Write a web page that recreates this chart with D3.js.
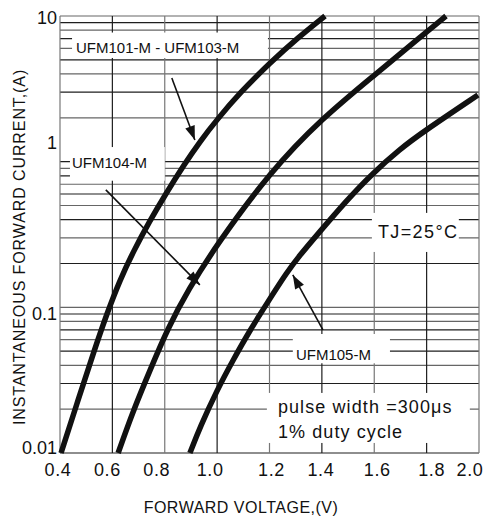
<!DOCTYPE html>
<html>
<head>
<meta charset="utf-8">
<script src="https://cdn.jsdelivr.net/npm/d3@7"></script>
<style>
  body { margin: 0; background: #fff; }
  svg { display: block; font-family: "Liberation Sans", Arial, sans-serif; }
</style>
</head>
<body>
<svg id="chart" width="487" height="519"></svg>
<script>
// forward voltage (V) / current (A)
const v101 = [0.404, 0.469, 0.530, 0.580, 0.629, 0.679, 0.744, 0.801, 0.874, 0.935, 1.000, 1.087, 1.202, 1.309, 1.412];
const i101 = [0.01, 0.0231, 0.0501, 0.0915, 0.154, 0.240, 0.395, 0.590, 0.955, 1.38, 1.95, 2.97, 4.77, 7.11, 10];

const v104 = [0.622, 0.679, 0.744, 0.812, 0.889, 1.000, 1.202, 1.401, 1.611, 1.775, 1.874];
const i104 = [0.01, 0.0194, 0.0371, 0.0721, 0.1315, 0.272, 0.849, 1.99, 4.06, 7.17, 10];

const v105 = [0.896, 0.935, 1.000, 1.061, 1.126, 1.191, 1.267, 1.317, 1.378, 1.496, 1.591, 1.698, 1.786, 1.996];
const i105 = [0.01, 0.0151, 0.0271, 0.0435, 0.0699, 0.107, 0.175, 0.229, 0.309, 0.546, 0.823, 1.22, 1.60, 2.87];

const xTickValues = [0.4, 0.6, 0.8, 1.0, 1.2, 1.4, 1.6, 1.8, 2.0];
const xTickLabels = ['0.4', '0.6', '0.8', '1.0', '1.2', '1.4', '1.6', '1.8', '2.0'];
const yTickValues = [10, 1, 0.1, 0.01];
const yTickLabels = ['10', '1', '0.1', '0.01'];

const margin = {left: 60, right: 8, top: 16, bottom: 66};
const width = 487, height = 519;

const svg = d3.select('#chart');

const x = d3.scaleLinear()
    .domain([0.4, 2.0])
    .range([margin.left, width - margin.right]);

const y = d3.scaleLog()
    .domain([0.01, 10])
    .range([height - margin.bottom, margin.top]);

// grid
const grid = svg.append('g');

grid.selectAll('.hgrid')
    .data(y.ticks())
    .join('line')
        .classed('hgrid', true)
        .attr('x1', x.range()[0])
        .attr('x2', x.range()[1])
        .attr('y1', d => y(d))
        .attr('y2', d => y(d))
        .style('stroke', (d, i) => i % 2 ? '#666' : '#1e1e1e')
        .style('stroke-width', 1.2);

grid.selectAll('.vgrid')
    .data(xTickValues)
    .join('line')
        .classed('vgrid', true)
        .attr('x1', d => x(d))
        .attr('x2', d => x(d))
        .attr('y1', y.range()[0])
        .attr('y2', y.range()[1])
        .style('stroke', (d, i) => i % 2 ? '#1e1e1e' : '#777')
        .style('stroke-width', 1.2);

// white boxes behind the notes
const boxes = [
    {v0: 0.446, v1: 1.194, i0: 5.15, i1: 7.7},
    {v0: 0.438, v1: 0.80, i0: 0.74, i1: 1.26},
    {v0: 1.591, v1: 1.923, i0: 0.24, i1: 0.445},
    {v0: 1.289, v1: 1.66, i0: 0.0413, i1: 0.0656},
    {v0: 1.19, v1: 1.965, i0: 0.01172, i1: 0.02585}
];

svg.selectAll('.noteBox')
    .data(boxes)
    .join('rect')
        .classed('noteBox', true)
        .attr('x', d => x(d.v0))
        .attr('y', d => y(d.i1))
        .attr('width', d => x(d.v1) - x(d.v0))
        .attr('height', d => y(d.i0) - y(d.i1))
        .style('fill', '#fff');

// notes
const notes = [
    {text: 'UFM101-M - UFM103-M', v: 0.461, i: 5.53, size: 15, ls: 0},
    {text: 'UFM104-M', v: 0.446, i: 0.898, size: 15, ls: 0},
    {text: 'TJ=25°C', v: 1.614, i: 0.297, size: 18, ls: 1.4},
    {text: 'UFM105-M', v: 1.301, i: 0.0433, size: 15, ls: 0},
    {text: 'pulse width =300μs', v: 1.232, i: 0.01884, size: 18, ls: 1.1},
    {text: '1% duty cycle', v: 1.232, i: 0.0127, size: 18, ls: 1.1}
];

svg.selectAll('.note')
    .data(notes)
    .join('text')
        .classed('note', true)
        .attr('x', d => x(d.v))
        .attr('y', d => y(d.i))
        .style('font-size', d => d.size + 'px')
        .style('letter-spacing', d => d.ls + 'px')
        .style('fill', '#111')
        .text(d => d.text);

// arrows
svg.append('defs').append('marker')
    .attr('id', 'head')
    .attr('markerUnits', 'userSpaceOnUse')
    .attr('viewBox', '-16 -7 18 14')
    .attr('markerWidth', 18)
    .attr('markerHeight', 14)
    .attr('refX', 0)
    .attr('refY', 0)
    .attr('orient', 'auto')
  .append('path')
    .attr('d', 'M0,0 L-14,-5 L-14,5 Z')
    .style('fill', '#111');

const arrows = [
    {v0: 0.827, i0: 3.75, v1: 0.915, i1: 1.41},
    {v0: 0.575, i0: 0.64, v1: 0.934, i1: 0.1426},
    {v0: 1.404, i0: 0.070, v1: 1.289, i1: 0.167}
];

svg.selectAll('.arrow')
    .data(arrows)
    .join('line')
        .classed('arrow', true)
        .attr('x1', d => x(d.v0))
        .attr('y1', d => y(d.i0))
        .attr('x2', d => x(d.v1))
        .attr('y2', d => y(d.i1))
        .attr('marker-end', 'url(#head)')
        .style('stroke', '#111')
        .style('stroke-width', 1.6);

// curves
const series = [
    d3.zip(v101, i101),
    d3.zip(v104, i104),
    d3.zip(v105, i105)
];

const line = d3.line()
    .x(d => x(d[0]))
    .y(d => y(d[1]))
    .curve(d3.curveBasis);

svg.selectAll('.curve')
    .data(series)
    .join('path')
        .classed('curve', true)
        .attr('d', line)
        .style('fill', 'none')
        .style('stroke', '#111')
        .style('stroke-width', 5.5);

// tick labels
const xLabelShift = [-2, -5, -8, -7, 2, -1, 3, 5, -9];

svg.selectAll('.xLabel')
    .data(xTickValues)
    .join('text')
        .classed('xLabel', true)
        .attr('x', (d, i) => x(d) + xLabelShift[i])
        .attr('y', 476)
        .style('text-anchor', 'middle')
        .style('font-size', '18px')
        .style('letter-spacing', '0.6px')
        .style('fill', '#111')
        .text((d, i) => xTickLabels[i]);

const yLabelShift = [8, -13, 13, 1];

svg.selectAll('.yLabel')
    .data(yTickValues)
    .join('text')
        .classed('yLabel', true)
        .attr('x', 57)
        .attr('y', (d, i) => y(d) + yLabelShift[i])
        .style('text-anchor', 'end')
        .style('font-size', '18px')
        .style('fill', '#111')
        .text((d, i) => yTickLabels[i]);

// axis titles
svg.append('text')
    .attr('x', 241)
    .attr('y', 513)
    .style('text-anchor', 'middle')
    .style('font-size', '16px')
    .style('letter-spacing', '0.5px')
    .style('fill', '#111')
    .text('FORWARD VOLTAGE,(V)');

svg.append('text')
    .attr('transform', 'translate(25, 247) rotate(-90)')
    .style('text-anchor', 'middle')
    .style('font-size', '16px')
    .style('letter-spacing', '0.9px')
    .style('fill', '#111')
    .text('INSTANTANEOUS FORWARD CURRENT,(A)');
</script>
</body>
</html>
